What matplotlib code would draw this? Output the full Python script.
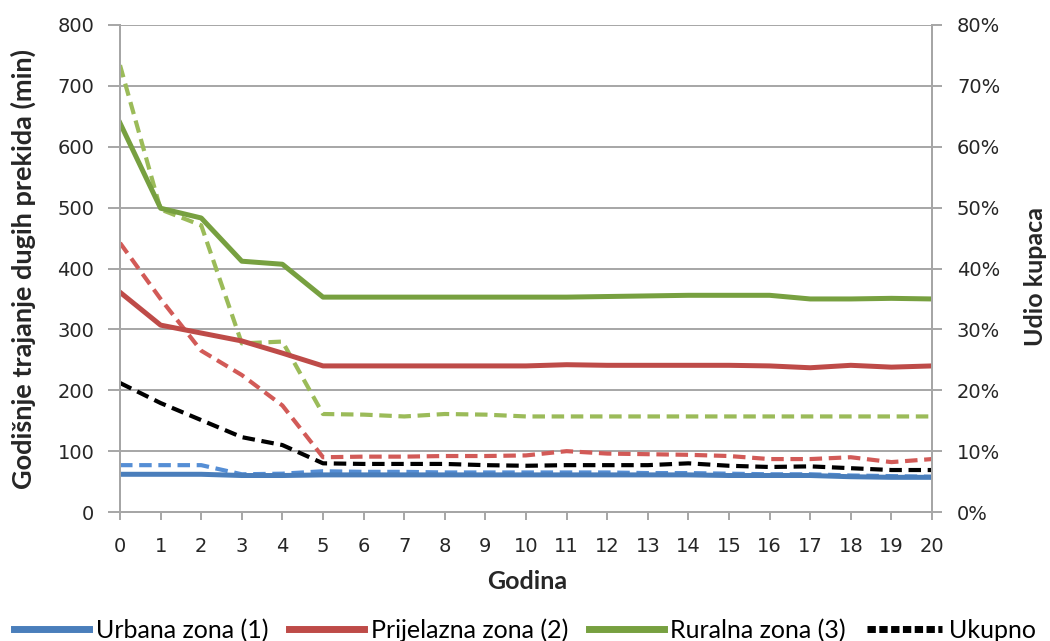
import matplotlib
matplotlib.use("Agg")
import matplotlib.pyplot as plt
from matplotlib.ticker import PercentFormatter
from matplotlib.lines import Line2D

# --- data -------------------------------------------------------------
godina = list(range(21))

# annual duration of long interruptions (min), left axis
urbana_min = [62, 62, 62, 60, 60, 61, 61, 61, 61, 61, 61, 61, 61, 61, 61, 60, 60, 60, 58, 57, 57]
prijelazna_min = [361, 307, 294, 281, 261, 240, 240, 240, 240, 240, 240, 242, 241, 241, 241, 241, 240, 237, 241, 238, 240]
ruralna_min = [639, 499, 483, 412, 407, 353, 353, 353, 353, 353, 353, 353, 354, 355, 356, 356, 356, 350, 350, 351, 350]

# share of customers, right axis (fraction)
urbana_udio = [0.077, 0.077, 0.077, 0.062, 0.063, 0.067, 0.066, 0.066, 0.065, 0.065, 0.065, 0.065, 0.065, 0.064, 0.064, 0.063, 0.062, 0.062, 0.060, 0.059, 0.058]
prijelazna_udio = [0.442, 0.350, 0.265, 0.225, 0.175, 0.090, 0.091, 0.091, 0.092, 0.092, 0.093, 0.100, 0.096, 0.095, 0.094, 0.092, 0.087, 0.087, 0.090, 0.082, 0.087]
ruralna_udio = [0.734, 0.497, 0.471, 0.277, 0.280, 0.161, 0.160, 0.157, 0.161, 0.160, 0.157, 0.157, 0.157, 0.157, 0.157, 0.157, 0.157, 0.157, 0.157, 0.157, 0.157]
ukupno_udio = [0.212, 0.179, 0.151, 0.123, 0.110, 0.080, 0.079, 0.079, 0.079, 0.077, 0.076, 0.077, 0.077, 0.077, 0.080, 0.076, 0.074, 0.075, 0.072, 0.069, 0.069]

legend_labels = ["Urbana zona (1)", "Prijelazna zona (2)", "Ruralna zona (3)", "Ukupno"]

# --- styling ----------------------------------------------------------
BLUE, BLUE_D = "#4A7EBB", "#558ED5"
RED, RED_D = "#BE4B48", "#D25A57"
GREEN, GREEN_D = "#77A040", "#9BBB59"
GRID = "#A6A6A6"
TXT = "#262626"
LABEL_FONT = ["Lato", "DejaVu Sans"]

plt.rcParams["font.family"] = ["DejaVu Sans"]

fig, ax = plt.subplots(figsize=(10.5, 6.41), dpi=100)
fig.subplots_adjust(left=0.1143, right=0.8876, bottom=0.2012, top=0.961)
ax2 = ax.twinx()

# dashed share lines (right axis), drawn first
dash = (3.0, 1.6)
for vals, col in [(urbana_udio, BLUE_D), (prijelazna_udio, RED_D),
                  (ruralna_udio, GREEN_D), (ukupno_udio, "black")]:
    ax2.plot(godina, vals, color=col, lw=3.0, dashes=dash)

# solid duration lines (left axis)
ax.plot(godina, urbana_min, color=BLUE, lw=3.6)
ax.plot(godina, prijelazna_min, color=RED, lw=3.6)
ax.plot(godina, ruralna_min, color=GREEN, lw=3.6)

ax.set_zorder(ax2.get_zorder() + 1)
ax.patch.set_visible(False)

ax.set_xlim(0, 20)
ax.set_ylim(0, 800)
ax2.set_ylim(0, 0.8)
ax.set_xticks(godina)
ax.set_yticks(range(0, 801, 100))
ax2.set_yticks([i / 10 for i in range(9)])
ax2.yaxis.set_major_formatter(PercentFormatter(1.0, decimals=0))

ax2.yaxis.grid(True, color=GRID, lw=1.4)
ax2.set_axisbelow(True)

for a in (ax, ax2):
    for s in a.spines.values():
        s.set_color(GRID)
        s.set_linewidth(1.4)
    a.spines["top"].set_visible(False)

ax.tick_params(axis="x", direction="out", length=6, width=1.4, color=GRID,
               labelsize=14, labelcolor=TXT, pad=12)
ax.tick_params(axis="y", direction="out", length=8.5, width=1.4, color=GRID,
               labelsize=14, labelcolor=TXT, pad=10)
ax2.tick_params(axis="y", direction="out", length=7, width=1.4, color=GRID,
                labelsize=14, labelcolor=TXT, pad=11)

ax.set_ylabel("Godišnje trajanje dugih prekida (min)", fontsize=19.5, fontweight="bold",
              color=TXT, family=LABEL_FONT)
ax2.set_ylabel("Udio kupaca", fontsize=18, fontweight="bold", color=TXT,
               family=LABEL_FONT)
ax.set_xlabel("Godina", fontsize=18, fontweight="bold", color=TXT,
              family=LABEL_FONT)
ax.yaxis.set_label_coords(-0.104, 0.5)
ax2.yaxis.set_label_coords(1.113, 0.483)
ax.xaxis.set_label_coords(0.501, -0.118)

handles = [
    Line2D([], [], color=BLUE, lw=5),
    Line2D([], [], color=RED, lw=5),
    Line2D([], [], color=GREEN, lw=5),
    Line2D([], [], color="black", lw=5, dashes=(1.2, 0.5)),
]
fig.legend(handles, legend_labels, loc="center", bbox_to_anchor=(0.5, 0.017),
           ncol=4, frameon=False, handlelength=3.0, handletextpad=0.25,
           columnspacing=0.85, prop={"family": LABEL_FONT, "size": 18})

fig.savefig("out.png", dpi=100)
